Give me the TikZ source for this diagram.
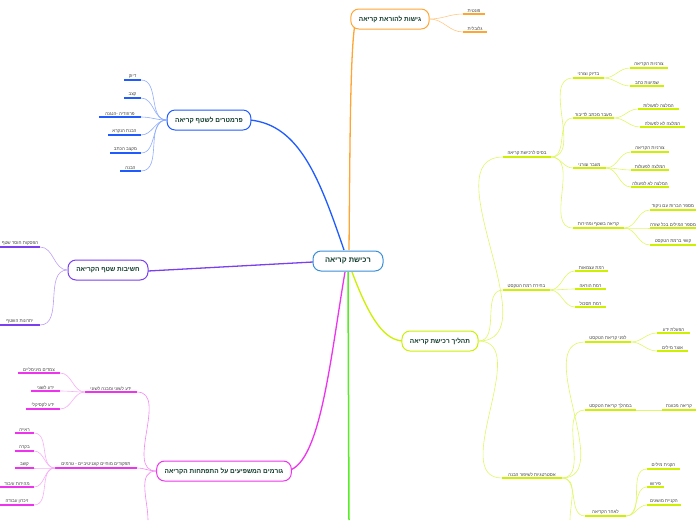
\documentclass[tikz,border=0pt]{standalone}
\usepackage{fontspec}
\setmainfont{Liberation Sans}
\TeXXeTstate=1
\definecolor{cor}{HTML}{FFA534}
\definecolor{cbl}{HTML}{1F5BFF}
\definecolor{cpu}{HTML}{7B3FF0}
\definecolor{cmg}{HTML}{EE33EE}
\definecolor{cye}{HTML}{CCF000}
\definecolor{cgr}{HTML}{55EE22}
\definecolor{ccn}{HTML}{3A8FD8}
\definecolor{ctx}{HTML}{0F3A2A}
\newcommand\hb[1]{\beginR #1\endR}
% leaf: name, x1, x2, y, text, color
\newcommand\lf[6]{%
  \coordinate (#1l) at (#2,#4); \coordinate (#1r) at (#3,#4);
  \draw[#6,line width=1.6pt] (#1l) -- (#1r);
  \node[font=\fontsize{4.5}{5}\selectfont,text=black!75,anchor=south,inner sep=1.5pt] (#1t) at ($(#1l)!0.5!(#1r)$) {\hb{#5}};}
\usetikzlibrary{calc}
\tikzset{mainbox/.style={draw=#1,line width=1pt,rounded corners=8pt,fill=white,font=\bfseries\fontsize{6.5}{7}\selectfont,text=ctx,minimum height=20pt,inner xsep=8pt},
lk/.style={#1,line width=0.6pt}}
\begin{document}
\begin{tikzpicture}[x=1pt,y=-1pt]
\useasboundingbox (0,0) rectangle (696,520);
% green branch
\draw[cgr,line width=1.5pt] (348,272) -- (349,520);
% main connectors
\coordinate (cn) at (348,261);
\draw[cor,line width=1.3pt] (349,250) .. controls (350,150) and (350,40) .. (356,19);
\draw[cbl,line width=1.3pt] (344,250) .. controls (320,180) and (300,125) .. (250,120);
\draw[cpu,line width=1.3pt] (313,262) -- (148,271);
\draw[cmg,line width=1.3pt] (345,272) .. controls (330,360) and (320,470) .. (285,471);
\draw[cye,line width=1.3pt] (352,272) .. controls (370,320) and (385,341) .. (404,341);
\node[mainbox=ccn,minimum width=70pt,font=\bfseries\fontsize{7.5}{8}\selectfont] (c) at (348,261) {\hb{רכישת קריאה}};
% orange
\node[mainbox=cor,minimum width=74pt] (o) at (390,19) {\hb{גישות להוראת קריאה}};
\lf{o1}{463}{485}{14}{פונטית}{cor}
\lf{o2}{463}{487}{32}{גלובלית}{cor}
\foreach \n in {o1,o2} \draw[lk=cor!60] (o.east) to[out=0,in=180] (\n l);
% blue
\node[mainbox=cbl,minimum width=82pt] (b) at (209,120) {\hb{פרמטרים לשטף קריאה}};
\lf{b1}{124}{141}{80}{דיוק}{cbl}
\lf{b2}{124}{141}{98}{קצב}{cbl}
\lf{b3}{99}{141}{117}{פרוזודיה -הנגנה}{cbl}
\lf{b4}{108}{141}{135}{הבנת הנקרא}{cbl}
\lf{b5}{110}{141}{153}{מקצב הכתב}{cbl}
\lf{b6}{120}{141}{171}{הבנה}{cbl}
\foreach \n in {b1,b2,b3,b4,b5,b6} \draw[lk=cbl!50] (b.west) to[out=180,in=0] (\n r);
% purple
\node[mainbox=cpu,minimum width=80pt] (p) at (108,270) {\hb{חשיבות שטף הקריאה}};
\lf{p1}{0}{40}{247}{הפסקות חוסר שטף}{cpu}
\lf{p2}{0}{40}{325}{יתרונות השטף}{cpu}
\foreach \n in {p1,p2} \draw[lk=cpu!50] (p.west) to[out=180,in=0] (\n r);
% magenta
\node[mainbox=cmg,minimum width=122pt] (m) at (224,471) {\hb{גורמים המשפיעים על התפתחות הקריאה}};
\lf{m1}{85}{137}{392}{ידע לשוני ומבנה לשוני}{cmg}
\lf{m2}{55}{137}{468}{תפקודים מוחיים קוגניטיביים - גורמים}{cmg}
\coordinate (m3) at (148,520);
\draw[lk=cmg!60] (m.west) to[out=180,in=0] (m1r);
\draw[lk=cmg!60] (m.west) to[out=180,in=0] (m2r);
\draw[lk=cmg!60] (m.west) to[out=180,in=90] (m3);
\lf{m11}{18}{60}{373}{צמדים מינימליים}{cmg}
\lf{m12}{31}{60}{391}{ידע לשוני}{cmg}
\lf{m13}{26}{60}{409}{ידע לקסיקלי}{cmg}
\foreach \n in {m11,m12,m13} \draw[lk=cmg!40] (m1l) to[out=180,in=0] (\n r);
\lf{m21}{15}{34}{433}{ראייה}{cmg}
\lf{m22}{15}{34}{451}{בקרה}{cmg}
\lf{m23}{15}{34}{468}{קשב}{cmg}
\lf{m24}{0}{34}{487}{מהירות עיבוד}{cmg}
\lf{m25}{0}{34}{505}{זיכרון עבודה}{cmg}
\foreach \n in {m21,m22,m23,m24,m25} \draw[lk=cmg!40] (m2l) to[out=180,in=0] (\n r);
% yellow
\node[mainbox=cye,minimum width=72pt] (y) at (440,341) {\hb{תהליך רכישת קריאה}};
\lf{y1}{503}{551}{157}{בסיס לרכישת קריאה}{cye}
\lf{y2}{503}{550}{290}{בחירת רמת הטקסט}{cye}
\lf{y3}{502}{562}{478}{אסטרטגיות לשיפור הבנה}{cye}
\coordinate (y4) at (570,520);
\foreach \n in {y1,y2,y3} \draw[lk=cye!60] (y.east) to[out=0,in=180] (\n l);
\lf{y11}{573}{604}{78}{בדיוק וצורני}{cye}
\lf{y12}{573}{614}{118}{מעבר מכתב לדיבור}{cye}
\lf{y13}{573}{606}{168}{מעבר וצורני}{cye}
\lf{y14}{573}{624}{228}{קריאה בשטף ומהירות}{cye}
\foreach \n in {y11,y12,y13,y14} \draw[lk=cye!60] (y1r) to[out=0,in=180] (\n l);
\lf{a1}{630}{668}{68}{צורניות הקריאה}{cye}
\lf{a2}{630}{664}{86}{שמיעות כתב}{cye}
\foreach \n in {a1,a2} \draw[lk=cye!60] (y11r) to[out=0,in=180] (\n l);
\lf{b1}{638}{679}{109}{המלצה לפעולות}{cye}
\lf{b2}{640}{685}{127}{המלצה לא לפעולה}{cye}
\foreach \n in {b1,b2} \draw[lk=cye!60] (y12r) to[out=0,in=180] (\n l);
\lf{c1}{631}{669}{152}{צורניות הקריאה}{cye}
\lf{c2}{631}{669}{170}{המלצה לפעולות}{cye}
\lf{c3}{631}{669}{187}{המלצה לא לפעולה}{cye}
\foreach \n in {c1,c2,c3} \draw[lk=cye!60] (y13r) to[out=0,in=180] (\n l);
\lf{d1}{650}{696}{210}{מספר הברות עם ניקוד}{cye}
\lf{d2}{650}{696}{228}{מספר המילים בכל שורה}{cye}
\lf{d3}{650}{696}{245}{קושי ברמת הטקסט}{cye}
\foreach \n in {d1,d2,d3} \draw[lk=cye!60] (y14r) to[out=0,in=180] (\n l);
\lf{e1}{575}{608}{271}{רמת עצמאות}{cye}
\lf{e2}{575}{606}{289}{רמת הוראה}{cye}
\lf{e3}{575}{606}{307}{רמת תסכול}{cye}
\foreach \n in {e1,e2,e3} \draw[lk=cye!60] (y2r) to[out=0,in=180] (\n l);
\lf{f1}{585}{631}{342}{לפני קריאת הטקסט}{cye}
\lf{f2}{585}{636}{410}{במהלך קריאת הטקסט}{cye}
\lf{f3}{585}{626}{516}{לאחר הקריאה}{cye}
\foreach \n in {f1,f2,f3} \draw[lk=cye!60] (y3r) to[out=0,in=180] (\n l);
\draw[lk=cye!60] (y3r) to[out=0,in=90] (y4);
\lf{g1}{657}{690}{333}{הפעלת ידע}{cye}
\lf{g2}{657}{688}{351}{אוצר מילים}{cye}
\foreach \n in {g1,g2} \draw[lk=cye!60] (f1r) to[out=0,in=180] (\n l);
\lf{h1}{662}{696}{410}{קריאה מכוונת}{cye}
\draw[lk=cye!60] (f2r) -- (h1l);
\lf{i1}{647}{680}{469}{הקנית מילים}{cye}
\lf{i2}{647}{664}{487}{פירוש}{cye}
\lf{i3}{647}{681}{505}{הקניית מושגים}{cye}
\foreach \n in {i1,i2,i3} \draw[lk=cye!60] (f3r) to[out=0,in=180] (\n l);
\end{tikzpicture}
\end{document}
